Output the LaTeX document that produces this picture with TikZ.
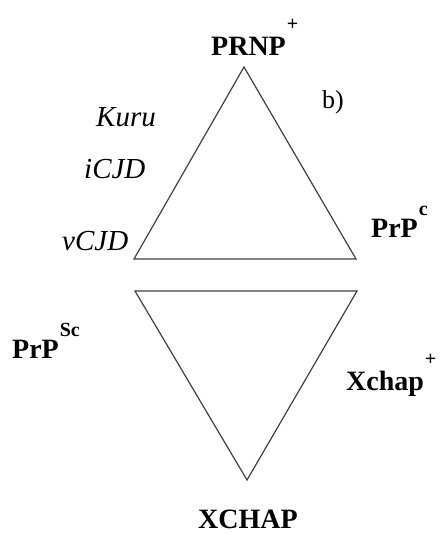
\documentclass[tikz,border=0pt]{standalone}
\usepackage{fontspec}
\setmainfont{Liberation Serif}
\usetikzlibrary{positioning}

\newcommand{\hiSup}[2]{\kern1pt\raisebox{#1}{\fontsize{20}{20}\selectfont #2}}

\begin{document}
\begin{tikzpicture}[x=1pt, y=-1pt,
  every node/.style={inner sep=0pt, font=\fontsize{27}{30}\selectfont},
  gene/.style={anchor=base west, font=\fontsize{28}{30}\selectfont\bfseries},
  strain/.style={anchor=base west, font=\fontsize{29}{30}\selectfont\itshape},
  edge/.style={draw=black!75, line width=1.2pt, line join=miter}]
\useasboundingbox (0,0) rectangle (445,533);

% upper triangle
\coordinate (topApex) at (244,67);
\coordinate (topLeft) at (134,259);
\coordinate (topRight) at (356,259);
\draw[edge] (topApex) -- (topLeft) -- (topRight) -- cycle;

% lower triangle
\coordinate (lowLeft) at (135,291);
\coordinate (lowRight) at (357,291);
\coordinate (lowApex) at (247,480);
\draw[edge] (lowLeft) -- (lowRight) -- (lowApex) -- cycle;

% labels
\node[gene] (prnp) at (211,55) {PRNP\hiSup{25pt}{+}};
\node[anchor=base west, font=\fontsize{26}{30}\selectfont] (panel) at (322,108) {b)};
\node[strain] (kuru) at (96,126) {Kuru};
\node[strain] (icjd) at (84,178) {iCJD};
\node[strain] (vcjd) at (62,250) {vCJD};
\node[gene] (prpc) at (371,237) {PrP\hiSup{22pt}{\bfseries c}};
\node[gene] (prpsc) at (12,358) {PrP\hiSup{22pt}{\bfseries Sc}};
\node[gene] (xchapp) at (346,390) {Xchap\hiSup{25pt}{+}};
\node[gene] (xchap) at (198,528) {XCHAP};
\end{tikzpicture}
\end{document}
